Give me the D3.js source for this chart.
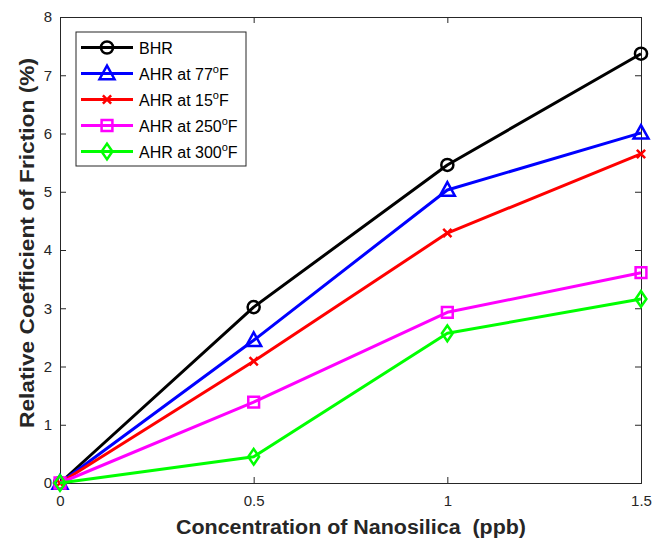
<!DOCTYPE html>
<html><head><meta charset="utf-8">
<script src="https://cdn.jsdelivr.net/npm/d3@7"></script>
<style>body{margin:0;background:#fff}svg{display:block;font-family:Arial,"Liberation Sans",Helvetica,sans-serif}</style>
</head><body><svg id="c" width="666" height="541"></svg>
<script>
const xValues = [0, 0.5, 1, 1.5];
const seriesNames = ["BHR", "AHR at 77", "AHR at 15", "AHR at 250", "AHR at 300"];
const bhr   = [0, 3.02, 5.46, 7.37];
const ahr77 = [0, 2.45, 5.03, 6.01];
const ahr15 = [0, 2.09, 4.29, 5.65];
const ahr250= [0, 1.39, 2.93, 3.61];
const ahr300= [0, 0.45, 2.57, 3.16];
const xTicks = [0, 0.5, 1, 1.5];
const yTicks = [0,1,2,3,4,5,6,7,8];

const series = [
  {name:seriesNames[0], sup:false, vals:bhr, color:"#000000", marker:"circle"},
  {name:seriesNames[1], sup:true, vals:ahr77, color:"#0000ff", marker:"triangle"},
  {name:seriesNames[2], sup:true, vals:ahr15, color:"#ff0000", marker:"x"},
  {name:seriesNames[3], sup:true, vals:ahr250, color:"#ff00ff", marker:"square"},
  {name:seriesNames[4], sup:true, vals:ahr300, color:"#00ff00", marker:"diamond"}
];

const svg = d3.select("#c");
const L=60, R=641, T=17, B=483;
const x = d3.scaleLinear().domain([0,1.5]).range([L,R]);
const y = d3.scaleLinear().domain([0,8]).range([B,T]);
const axisColor="#262626";

const gx = svg.append("g").attr("transform",`translate(0,${B})`)
  .call(d3.axisBottom(x).tickValues(xTicks).tickSize(-6).tickPadding(12).tickFormat(d3.format("")));
const gy = svg.append("g").attr("transform",`translate(${L},0)`)
  .call(d3.axisLeft(y).tickValues(yTicks).tickSize(-6).tickPadding(8));
const gt = svg.append("g").attr("transform",`translate(0,${T})`)
  .call(d3.axisTop(x).tickValues(xTicks).tickSize(-6).tickFormat(""));
const gr = svg.append("g").attr("transform",`translate(${R},0)`)
  .call(d3.axisRight(y).tickValues(yTicks).tickSize(-6).tickFormat(""));
[gx,gy,gt,gr].forEach(g=>{
  g.selectAll("path.domain").attr("stroke",axisColor).attr("stroke-width",1);
  g.selectAll(".tick line").attr("stroke",axisColor);
  g.selectAll(".tick text").attr("fill",axisColor).style("font-size","15px").style("font-family","Arial, 'Liberation Sans', sans-serif");
});

function markerPath(type, s){
  switch(type){
    case "circle": return d3.symbol(d3.symbolCircle, 115)();
    case "triangle": return `M0,${-s*1.05}L${s},${s*0.75}L${-s},${s*0.75}Z`;
    case "square": return `M${-s*0.72},${-s*0.72}H${s*0.72}V${s*0.72}H${-s*0.72}Z`;
    case "diamond": return `M0,${-s*1.05}L${s*0.72},0L0,${s*1.05}L${-s*0.72},0Z`;
    case "x": return `M${-s*0.55},${-s*0.55}L${s*0.55},${s*0.55}M${-s*0.55},${s*0.55}L${s*0.55},${-s*0.55}`;
  }
}

const line = d3.line().x((d,i)=>x(xValues[i])).y(d=>y(d));
series.forEach(sr=>{
  const g = svg.append("g");
  g.append("path").datum(sr.vals).attr("d",line).attr("fill","none")
    .attr("stroke",sr.color).attr("stroke-width",3).attr("stroke-linejoin","round");
  g.selectAll("path.m").data(sr.vals).join("path").attr("class","m")
    .attr("transform",(d,i)=>`translate(${x(xValues[i])},${y(d)})`)
    .attr("d",markerPath(sr.marker,7.5))
    .attr("fill","none").attr("stroke",sr.color).attr("stroke-width",2.5);
});

const lg = svg.append("g");
lg.append("rect").attr("x",76).attr("y",32).attr("width",170).attr("height",134)
  .attr("fill","#fff").attr("stroke",axisColor).attr("stroke-width",1);
series.forEach((sr,i)=>{
  const yy = 47.5 + i*26;
  lg.append("line").attr("x1",81).attr("x2",133).attr("y1",yy).attr("y2",yy)
    .attr("stroke",sr.color).attr("stroke-width",3);
  lg.append("path").attr("transform",`translate(107,${yy})`).attr("d",markerPath(sr.marker,7.5))
    .attr("fill","none").attr("stroke",sr.color).attr("stroke-width",2.5);
  const t = lg.append("text").attr("x",139).attr("y",yy+6).attr("fill","#000")
    .style("font-size","16px").text(sr.name);
  if(sr.sup){
    t.append("tspan").attr("dy",-7).style("font-size","11px").text("o");
    t.append("tspan").attr("dy",7).text("F");
  }
});

svg.append("text").attr("x",351).attr("y",534).attr("text-anchor","middle")
  .attr("fill",axisColor).style("font-size","20px").style("font-weight","bold")
  .attr("textLength",350).attr("lengthAdjust","spacingAndGlyphs")
  .text("Concentration of Nanosilica  (ppb)").style("white-space","pre");
svg.append("text").attr("transform","translate(34,243) rotate(-90)").attr("text-anchor","middle")
  .attr("fill",axisColor).style("font-size","20px").style("font-weight","bold")
  .attr("textLength",370).attr("lengthAdjust","spacingAndGlyphs")
  .text("Relative Coefficient of Friction (%)");
</script></body></html>
